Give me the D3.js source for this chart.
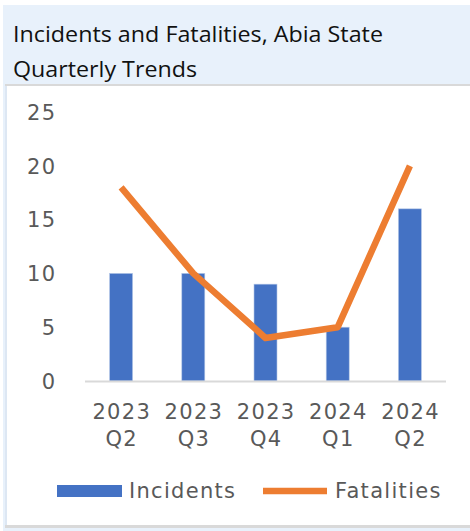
<!DOCTYPE html>
<html>
<head>
<meta charset="utf-8">
<script src="https://cdn.jsdelivr.net/npm/d3@7"></script>
<style>
  html, body { margin: 0; padding: 0; background: #ffffff; }
  svg { display: block; }
</style>
</head>
<body>
<svg id="chart" width="470" height="531"></svg>
<script>
// Quarterly figures for Abia State
const quarters = [["2023", "Q2"], ["2023", "Q3"], ["2023", "Q4"], ["2024", "Q1"], ["2024", "Q2"]];
const incidents = [10, 10, 9, 5, 16];
const fatalities = [18, 10, 4, 5, 20];
const yTicks = [0, 5, 10, 15, 20, 25];
const seriesNames = ["Incidents", "Fatalities"];

const svg = d3.select("#chart");
const W = 470, H = 531;
const blue = "#4472c4", orange = "#ed7d31";
const tickFont = "DejaVu Sans, Verdana, sans-serif";
const tickSize = 21;
const spacing = 1.3;

// backdrop: light blue frame, title strip, white plot panel
svg.append("rect").attr("x", 3).attr("y", 5).attr("width", W - 3).attr("height", H - 5).attr("fill", "#e8f1fb");
svg.append("rect").attr("x", 5).attr("y", 84).attr("width", W - 5).attr("height", 444).attr("fill", "#d9d9d9");
svg.append("rect").attr("x", 7).attr("y", 86).attr("width", W - 7).attr("height", 439).attr("fill", "#ffffff");
svg.append("rect").attr("x", 5).attr("y", 86).attr("width", 2).attr("height", 439).attr("fill", "#dde7f3");

// title
const title = svg.append("g").attr("font-family", "Open Sans, Noto Sans, sans-serif").attr("fill", "#111111").attr("font-size", 21);
title.append("text").attr("x", 13).attr("y", 42).attr("textLength", 370).attr("lengthAdjust", "spacingAndGlyphs")
  .text("Incidents and Fatalities, Abia State");
title.append("text").attr("x", 13).attr("y", 77).attr("textLength", 184).attr("lengthAdjust", "spacingAndGlyphs")
  .text("Quarterly Trends");

// scales
const x = d3.scaleBand().domain(d3.range(quarters.length)).range([85, 446]).paddingInner(0).paddingOuter(0);
const y = d3.scaleLinear().domain([0, 25]).range([381, 112]);
const barW = 23;

// y axis labels
const yAxis = svg.append("g").attr("transform", `translate(${55 + spacing},0)`)
  .call(d3.axisLeft(y).tickValues(yTicks).tickSize(0).tickPadding(0));
yAxis.select(".domain").remove();
yAxis.selectAll("text").attr("font-family", tickFont).attr("font-size", tickSize).attr("fill", "#595959")
  .attr("letter-spacing", spacing).attr("dy", "0.35em");

// bars
svg.append("g").selectAll("rect").data(incidents).join("rect")
  .attr("x", (d, i) => x(i) + x.bandwidth() / 2 - barW / 2)
  .attr("y", d => y(d))
  .attr("width", barW)
  .attr("height", d => y(0) - y(d))
  .attr("fill", blue)
  .attr("stroke", "#b4c7e7").attr("stroke-width", 0.6);

// category axis line
svg.append("line").attr("x1", 85).attr("x2", 446).attr("y1", y(0) + 0.5).attr("y2", y(0) + 0.5)
  .attr("stroke", "#d9d9d9").attr("stroke-width", 2);

// fatalities line
const line = d3.line().x((d, i) => x(i) + x.bandwidth() / 2).y(d => y(d));
svg.append("path").datum(fatalities).attr("d", line)
  .attr("fill", "none").attr("stroke", orange).attr("stroke-width", 6.5)
  .attr("stroke-linejoin", "round").attr("stroke-linecap", "butt");

// category labels (two lines)
const xl = svg.append("g").attr("font-family", tickFont).attr("font-size", tickSize).attr("fill", "#595959")
  .attr("text-anchor", "middle").attr("letter-spacing", spacing);
quarters.forEach((q, i) => {
  const cx = x(i) + x.bandwidth() / 2 + spacing / 2;
  xl.append("text").attr("x", cx).attr("y", 419).text(q[0]);
  xl.append("text").attr("x", cx).attr("y", 446).text(q[1]);
});

// legend
const lg = svg.append("g").attr("font-family", tickFont).attr("font-size", tickSize).attr("fill", "#595959").attr("letter-spacing", spacing);
lg.append("rect").attr("x", 57).attr("y", 485).attr("width", 65).attr("height", 12).attr("fill", blue);
lg.append("text").attr("x", 129).attr("y", 498).text(seriesNames[0]);
lg.append("line").attr("x1", 263).attr("x2", 327).attr("y1", 491).attr("y2", 491).attr("stroke", orange).attr("stroke-width", 6.5);
lg.append("text").attr("x", 335).attr("y", 498).text(seriesNames[1]);
</script>
</body>
</html>
